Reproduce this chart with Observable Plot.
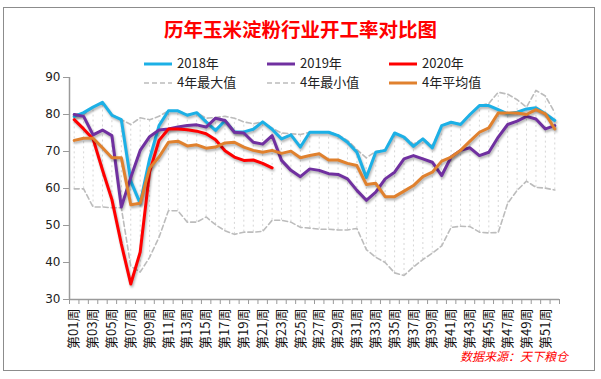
<!DOCTYPE html>
<html>
<head>
<meta charset="utf-8">
<script src="https://cdn.jsdelivr.net/npm/d3@7"></script>
<script src="https://cdn.jsdelivr.net/npm/@observablehq/plot@0.6"></script>
<style>
body{margin:0;background:#fff}
#wrap{position:relative;width:601px;height:379px;overflow:hidden;font-family:"Noto Sans CJK SC",sans-serif;background:#fff}
#frame{position:absolute;left:3px;top:7px;width:592px;height:364px;border:1px solid #8c8c8c;box-sizing:border-box}
#title{position:absolute;left:0;width:601px;top:16px;text-align:center;color:#ff0000;font-size:19.5px;font-weight:bold;line-height:26px;letter-spacing:0px}
.leg{position:absolute;font-size:13px;color:#222;line-height:16px;white-space:nowrap}
.leg svg{position:static;vertical-align:middle}
#src{position:absolute;left:460px;top:348px;font-size:12px;line-height:16px;color:#ff0000;font-style:italic;white-space:nowrap}
#chart svg{position:absolute;left:0;top:0}
#chart g[aria-label="y-axis tick label"] text{font-family:"DejaVu Sans",sans-serif;font-size:12px;fill:#222}
#chart g[aria-label="x-axis tick label"] text{font-family:"Noto Sans CJK SC",sans-serif;font-size:13px;fill:#111}
</style>
</head>
<body>
<div id="wrap">
  <div id="frame"></div>
  <div id="chart"></div>
  <div id="title">历年玉米淀粉行业开工率对比图</div>
  <div id="legend"></div>
  <div id="src">数据来源：天下粮仓</div>
</div>
<script>
// ---- data ----
const seriesNames = ["2018年", "2019年", "2020年", "4年最大值", "4年最小值", "4年平均值"];
const weekTickLabels = ["第01周","第03周","第05周","第07周","第09周","第11周","第13周","第15周","第17周","第19周","第21周","第23周","第25周","第27周","第29周","第31周","第33周","第35周","第37周","第39周","第41周","第43周","第45周","第47周","第49周","第51周"];
const yTicks = [30, 40, 50, 60, 70, 80, 90];

const y2018 = [79.5,80.5,82,83.3,79.8,78.6,62,56,68,77,81,81,79.8,80.5,78,75.7,78.3,75.3,75.3,76,78,76,73.4,74.5,71.2,75.2,75.2,75.2,74.3,72.5,69.8,63,69.8,70.3,75,73.9,71.4,73.4,71,77,77.9,77.3,80,82.4,82.4,81.3,80.2,80.6,81.5,81.8,80.2,78.4];
const y2019 = [80,79.5,74.5,75.8,74.3,55,63,70.3,74,75.8,76.1,76.6,77,77.2,76.6,79,78.4,75.2,75,72.5,72,74.3,67.6,64.9,63.2,65.3,64.9,64,63.8,62.6,59.5,56.8,59,62.6,64.4,68,68.9,68,67.1,63.5,68.5,70.3,71,68.9,69.8,73.9,77.3,78.2,79.5,78.8,76.1,77];
const y2020 = [78.6,76.1,73.4,65,57,45,34.2,42.8,64.5,73,76.1,76.1,75.9,75.5,74.8,73.2,70.2,68.5,67.6,67.7,66.8,65.6];
const max4 = [80.2,80,82,83.3,80,78.6,77.3,79.1,78.6,79.5,81,81,80,80.5,79,79.2,79.5,79,78,77.5,78,76.3,75,74.8,74.6,75.2,75.3,75.3,74.5,73,70.5,68.3,70,70.5,75,74,72,73.5,71.5,77,78,77.5,80,82.4,83,86,85.5,84,82,86.5,85,80.5];
const min4 = [59.9,59.9,55,55,54.8,54.8,39,37.4,41.4,46.8,54,54,50.9,50.9,52.3,50.2,48.6,47.6,48.2,48.2,48.4,51.4,51.4,50.9,49.5,49.3,49,49,48.8,48.8,49.2,43.5,41.4,40,37.2,36.5,38.8,40.8,42.5,44.5,49.5,49.8,49.7,48.2,48,48.1,56,59.5,62,60.3,60.1,59.6];
const avg4 = [73,73.6,73.6,71,68.3,68.3,55.6,56,65.5,68.5,72.5,72.8,71.5,71.8,70.9,71.2,72.3,72.5,71.2,70.3,69.8,70.3,69.5,70.1,68.3,68.9,69.4,67.7,67.7,66.8,66.2,61.1,61.4,57.8,57.8,59.3,60.8,63.2,64.4,67.4,68.5,70.3,72.8,75.2,76.4,80.4,80.4,80.4,80,81.3,80.2,76.1];

const colors = ["#1cb0e6", "#7030a0", "#ff0000", "#bcbcbc", "#bcbcbc", "#e0812e"];

// ---- build tables ----
const toRows = arr => arr.map((v, i) => ({week: i + 1, v}));
const hl = max4.map((v, i) => ({week: i + 1, hi: v, lo: min4[i]}));
const oddWeeks = weekTickLabels.map((_, i) => 2 * i + 1);
const halfTicks = d3.range(0.5, 53, 1);

const lineStyle = (c) => ({x: "week", y: "v", stroke: c, strokeWidth: 3, strokeLinejoin: "round", strokeLinecap: "round"});

const chart = Plot.plot({
  width: 601,
  height: 379,
  marginLeft: 69,
  marginRight: 42,
  marginTop: 77,
  marginBottom: 80,
  style: {background: "transparent", fontFamily: "'Noto Sans CJK SC', sans-serif"},
  x: {domain: [0.5, 52.5], axis: null, label: null},
  y: {domain: [30, 90], axis: null, label: null},
  marks: [
    Plot.ruleX(hl, {x: "week", y1: "lo", y2: "hi", stroke: "#d6d6d6", strokeWidth: 1, strokeDasharray: "2,3"}),
    Plot.line(toRows(max4), {x: "week", y: "v", stroke: colors[3], strokeWidth: 1.6, strokeDasharray: "5,3"}),
    Plot.line(toRows(min4), {x: "week", y: "v", stroke: colors[4], strokeWidth: 1.6, strokeDasharray: "5,3"}),
    Plot.line(toRows(y2018), lineStyle(colors[0])),
    Plot.line(toRows(y2019), lineStyle(colors[1])),
    Plot.line(toRows(y2020), lineStyle(colors[2])),
    Plot.line(toRows(avg4), lineStyle(colors[5])),
    Plot.ruleY([30], {stroke: "#9a9a9a", strokeWidth: 1.5}),
    Plot.ruleX([0.5], {stroke: "#9a9a9a", strokeWidth: 1.5}),
    Plot.axisY({ticks: yTicks, tickSize: 6, tickPadding: 3, stroke: "#9a9a9a", label: null, tickFormat: d => String(d)}),
    Plot.axisX({ticks: halfTicks, tickSize: 5, tickFormat: () => "", stroke: "#9a9a9a", label: null}),
    Plot.axisX({ticks: oddWeeks, tickSize: 0, tickPadding: 9, tickRotate: -90, label: null, tickFormat: d => weekTickLabels[(d - 1) / 2]})
  ]
});
document.getElementById("chart").appendChild(chart);

// drop shadow on solid series lines (like the reference's shadowed lines)
d3.select(chart).selectAll('g[aria-label="line"]').filter((d, i) => i >= 2)
  .style("filter", "drop-shadow(1.5px 2px 1.2px rgba(0,0,0,0.3))");

// ---- legend ----
const legendPos = [[144, 63], [267, 63], [389, 63], [144, 82], [267, 82], [389, 82]];
const leg = document.getElementById("legend");
seriesNames.forEach((name, i) => {
  const [x, y] = legendPos[i];
  const div = document.createElement("div");
  div.className = "leg";
  div.style.left = x + "px";
  div.style.top = (y - 8) + "px";
  const dashed = i === 3 || i === 4;
  div.innerHTML = `<svg width="33" height="16"><line x1="0" x2="28" y1="8" y2="8" stroke="${colors[i]}" stroke-width="${dashed ? 1.6 : 3}" ${dashed ? 'stroke-dasharray="5,3"' : ''}/></svg>${name}`;
  leg.appendChild(div);
});
</script>
</body>
</html>
